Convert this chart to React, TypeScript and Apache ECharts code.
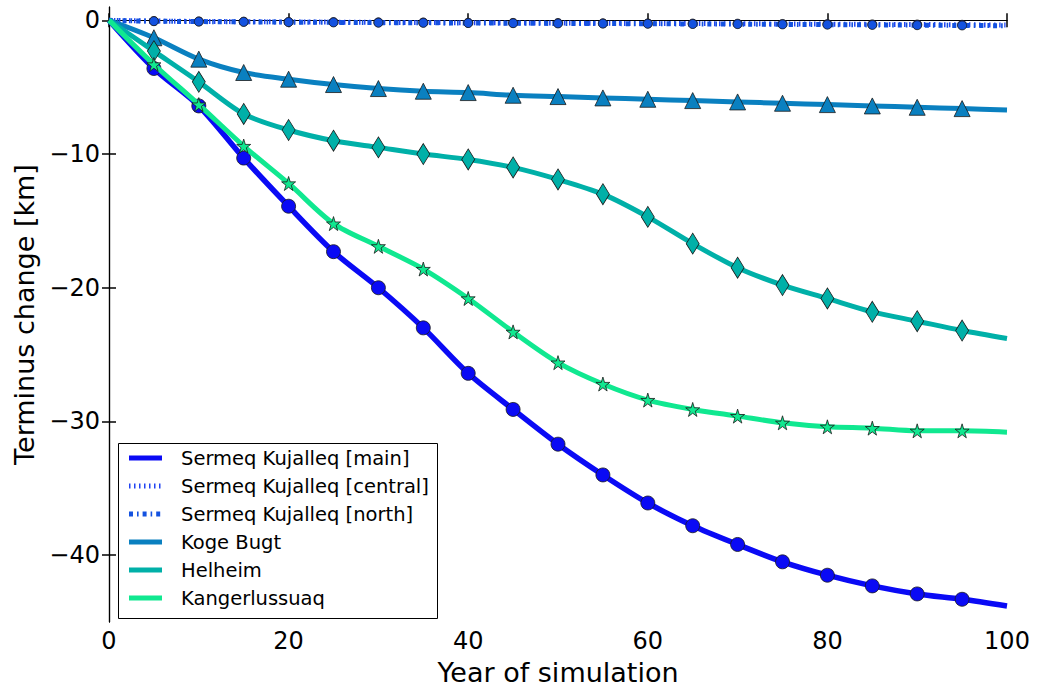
import React, { useEffect, useRef } from "react";
import * as echarts from "echarts";

const years = [0, 5, 10, 15, 20, 25, 30, 35, 40, 45, 50, 55, 60, 65, 70, 75, 80, 85, 90, 95, 100];

const mainValues = [0, -3.6, -6.4, -10.3, -13.9, -17.3, -20.0, -23.0, -26.4, -29.1, -31.7, -34.0, -36.1, -37.8, -39.2, -40.5, -41.5, -42.3, -42.9, -43.3, -43.8];
const centralValues = [0, -0.05, -0.08, -0.1, -0.12, -0.13, -0.15, -0.16, -0.18, -0.19, -0.2, -0.22, -0.23, -0.24, -0.25, -0.27, -0.28, -0.3, -0.31, -0.33, -0.35];
const northValues = [0, -0.06, -0.09, -0.11, -0.13, -0.15, -0.17, -0.18, -0.2, -0.21, -0.23, -0.24, -0.25, -0.27, -0.28, -0.3, -0.32, -0.34, -0.36, -0.38, -0.4];
const kogeValues = [0, -1.3, -2.9, -3.9, -4.4, -4.8, -5.1, -5.3, -5.4, -5.6, -5.7, -5.8, -5.9, -6.0, -6.1, -6.2, -6.3, -6.4, -6.5, -6.6, -6.7];
const helheimValues = [0, -2.3, -4.6, -7.0, -8.2, -9.0, -9.5, -10.0, -10.4, -11.0, -11.9, -13.0, -14.7, -16.7, -18.5, -19.8, -20.8, -21.8, -22.5, -23.2, -23.8];
const kangValues = [0, -3.3, -6.3, -9.4, -12.2, -15.2, -16.9, -18.6, -20.8, -23.3, -25.6, -27.2, -28.4, -29.1, -29.6, -30.1, -30.4, -30.5, -30.7, -30.7, -30.8];

const seriesNames = [
  "Sermeq Kujalleq [main]",
  "Sermeq Kujalleq [central]",
  "Sermeq Kujalleq [north]",
  "Koge Bugt",
  "Helheim",
  "Kangerlussuaq",
];
const yTicks = [0, -10, -20, -30, -40];

const COLORS = ["#0a0af5", "#2244f2", "#1452e0", "#0a80c0", "#00b0a8", "#10e890"];
const FONT = "DejaVu Sans";
const STAR = "path://M50,0 L61,35 L98,35 L68,57 L79,91 L50,70 L21,91 L32,57 L2,35 L39,35 Z";

function pairs(vals: number[]) {
  return years.map((y, i) => {
    const edge = i === 0 || i === years.length - 1;
    return edge ? { value: [y, vals[i]], symbol: "none" } : { value: [y, vals[i]] };
  });
}

export default function App() {
  const ref = useRef<HTMLDivElement>(null);
  useEffect(() => {
    document.body.style.margin = "0";
    const chart = echarts.init(ref.current!, null, { renderer: "svg" });
    const minus = (v: number) => String(v).replace("-", "\u2212");
    const legendRows = [458, 486, 514, 542, 570, 598];
    const dashes: (number[] | null)[] = [null, [1.5, 3.5], [4, 4, 1.6, 4], null, null, null];
    const legendGraphics: any[] = [
      {
        type: "rect",
        shape: { x: 118.5, y: 443.5, width: 319, height: 175 },
        style: { fill: "#fff", stroke: "#000", lineWidth: 1 },
        z: 100,
      },
    ];
    seriesNames.forEach((n, i) => {
      legendGraphics.push({
        type: "line",
        shape: { x1: 129, y1: legendRows[i], x2: 162, y2: legendRows[i] },
        style: {
          stroke: COLORS[i],
          lineWidth: 5,
          lineDash: dashes[i] || undefined,
        },
        z: 101,
      });
      legendGraphics.push({
        type: "text",
        x: 181,
        y: legendRows[i],
        style: { text: n, fontFamily: FONT, fontSize: 19.5, fill: "#000", verticalAlign: "middle" },
        z: 101,
      });
    });

    const mk = (i: number, vals: number[], symbol: string, size: any, width: number, dash?: number[]) => ({
      name: seriesNames[i],
      type: "line",
      data: pairs(vals),
      smooth: 0.3,
      symbol,
      symbolSize: size,
      showSymbol: true,
      lineStyle: { color: COLORS[i], width, type: dash || "solid" },
      itemStyle: { color: COLORS[i], borderColor: "#1a1a1a", borderWidth: 0.8 },
      clip: true,
      z: 2 + i,
    });

    chart.setOption({
      animation: false,
      backgroundColor: "#fff",
      textStyle: { fontFamily: FONT },
      grid: { left: 109, right: 31, top: 7, bottom: 65, containLabel: false },
      xAxis: [
        {
          type: "value",
          min: 0,
          max: 100,
          interval: 20,
          name: "Year of simulation",
          nameLocation: "middle",
          nameGap: 37,
          nameTextStyle: { fontFamily: FONT, fontSize: 27, color: "#000" },
          axisLine: { lineStyle: { color: "#000", width: 1.2 } },
          axisTick: { inside: true, length: 7, lineStyle: { color: "#000", width: 1.5 } },
          axisLabel: { fontFamily: FONT, fontSize: 24, color: "#000", margin: 7 },
          splitLine: { show: false },
        },
        {
          type: "value",
          position: "top",
          min: 0,
          max: 100,
          interval: 20,
          axisLine: { lineStyle: { color: "#000", width: 1.2 } },
          axisTick: { inside: true, length: 7, lineStyle: { color: "#000", width: 1.5 } },
          axisLabel: { show: false },
          splitLine: { show: false },
        },
      ],
      yAxis: [
        {
          type: "value",
          min: -45,
          max: 1,
          name: "Terminus change [km]",
          nameLocation: "middle",
          nameGap: 68,
          nameTextStyle: { fontFamily: FONT, fontSize: 27, color: "#000" },
          axisLine: { show: true, lineStyle: { color: "#000", width: 1.2 } },
          axisTick: { show: true, inside: true, length: 7, customValues: yTicks, lineStyle: { color: "#000", width: 1.5 } },
          axisLabel: { fontFamily: FONT, fontSize: 24, color: "#000", margin: 9, customValues: yTicks, formatter: minus },
          splitLine: { show: false },
        },
        {
          type: "value",
          position: "right",
          min: -45,
          max: 1,
          axisLine: { show: true, lineStyle: { color: "#000", width: 1.2 } },
          axisTick: { show: true, inside: true, length: 7, customValues: yTicks, lineStyle: { color: "#000", width: 1.5 } },
          axisLabel: { show: false, customValues: yTicks },
          splitLine: { show: false },
        },
      ],
      series: [
        mk(0, mainValues, "circle", 14, 5.5),
        mk(1, centralValues, "circle", 9, 5, [1.5, 3.5]),
        mk(2, northValues, "circle", 9, 5, [4, 4, 1.6, 4]),
        mk(3, kogeValues, "triangle", 16, 5),
        mk(4, helheimValues, "diamond", [13, 21], 5),
        mk(5, kangValues, STAR, 14, 5),
      ],
      graphic: legendGraphics,
    });
    return () => chart.dispose();
  }, []);
  return <div ref={ref} style={{ width: 1038, height: 691 }} />;
}
